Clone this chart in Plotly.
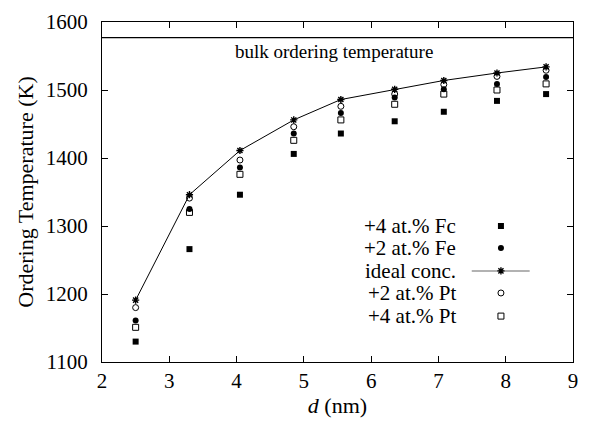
import plotly.graph_objects as go

d_nm = [2.5, 3.3, 4.05, 4.85, 5.55, 6.35, 7.08, 7.87, 8.6]
ideal = [1191, 1346, 1411, 1456, 1486, 1501, 1514, 1525, 1534]
fe4 = [1130, 1266, 1346, 1406, 1436, 1454, 1468, 1484, 1494]
fe2 = [1161, 1325, 1386, 1436, 1466, 1489, 1501, 1509, 1519]
pt2 = [1180, 1341, 1397, 1446, 1476, 1494, 1508, 1520, 1529]
pt4 = [1151, 1320, 1376, 1426, 1456, 1479, 1494, 1500, 1509]
bulk_T = 1577
bulk_label = "bulk ordering temperature"
x_ticks = [2, 3, 4, 5, 6, 7, 8, 9]
y_ticks = [1100, 1200, 1300, 1400, 1500, 1600]

series = [
    ("+4 at.% Fc", fe4, dict(symbol="square", size=6, color="black")),
    ("+2 at.% Fe", fe2, dict(symbol="circle", size=6, color="black")),
    ("ideal conc.", ideal, dict(symbol="asterisk-open", size=6, color="black", line=dict(width=1.4, color="black"))),
    ("+2 at.% Pt", pt2, dict(symbol="circle-open", size=6, color="black", line=dict(width=1, color="black"))),
    ("+4 at.% Pt", pt4, dict(symbol="square-open", size=6, color="black", line=dict(width=1, color="black"))),
]

FONT = "Liberation Serif"
fig = go.Figure()

for name, vals, mk in series:
    if name == "ideal conc.":
        continue
    fig.add_trace(go.Scatter(x=d_nm, y=vals, mode="markers", marker=mk, name=name, showlegend=False))
fig.add_trace(go.Scatter(x=d_nm, y=ideal, mode="lines+markers", line=dict(color="black", width=1),
                         marker=series[2][2], name="ideal conc.", showlegend=False))

fig.add_hline(y=bulk_T, line=dict(color="black", width=1.2))
fig.add_annotation(x=5.45, y=bulk_T, xref="x", yref="y", text=bulk_label, showarrow=False,
                   yanchor="top", yshift=-1, font=dict(family=FONT, size=19, color="black"))

# manual legend (text right-aligned, symbol on right)
leg_y = [0.40, 0.335, 0.268, 0.203, 0.135]
for (name, vals, mk), ly in zip(series, leg_y):
    fig.add_annotation(x=0.755, y=ly, xref="paper", yref="paper", text=name, showarrow=False,
                       xanchor="right", yanchor="middle", font=dict(family=FONT, size=21, color="black"))
    if name == "ideal conc.":
        fig.add_trace(go.Scatter(x=[0.785, 0.908], y=[ly, ly], xaxis="x2", yaxis="y2", mode="lines",
                                 line=dict(color="#999999", width=1.5), showlegend=False, hoverinfo="skip"))
    fig.add_trace(go.Scatter(x=[0.847], y=[ly], xaxis="x2", yaxis="y2", mode="markers",
                             marker=mk, showlegend=False, hoverinfo="skip"))

axis_common = dict(showgrid=False, zeroline=False, showline=True, linecolor="black", linewidth=1,
                   mirror="ticks", ticks="inside", ticklen=6, tickcolor="black",
                   tickfont=dict(family=FONT, size=21, color="black"))
fig.update_layout(
    template="none",
    width=590, height=431,
    margin=dict(l=102, r=17, t=22, b=69),
    paper_bgcolor="white", plot_bgcolor="white",
    font=dict(family=FONT, color="black"),
    xaxis=dict(range=[2, 9], tickvals=x_ticks, ticktext=[str(t) for t in x_ticks], ticklabelstandoff=0,
               title=dict(text="<i>d</i> (nm)", font=dict(family=FONT, size=22, color="black"), standoff=4),
               **axis_common),
    yaxis=dict(range=[1100, 1600], tickvals=y_ticks, ticktext=[str(t) for t in y_ticks], ticklabelstandoff=9,
               title=dict(text="Ordering Temperature (K)", font=dict(family=FONT, size=22, color="black"), standoff=6),
               **axis_common),
    xaxis2=dict(range=[0, 1], overlaying="x", visible=False, anchor="y2"),
    yaxis2=dict(range=[0, 1], overlaying="y", visible=False, anchor="x2"),
    showlegend=False,
)

fig.write_html("out.html")
